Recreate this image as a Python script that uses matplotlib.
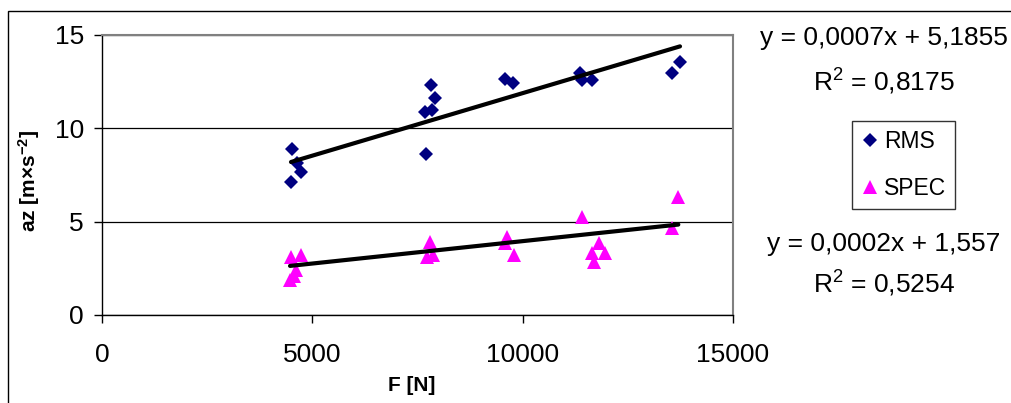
import matplotlib
matplotlib.use("Agg")
import matplotlib.pyplot as plt
from matplotlib.patches import Rectangle
import numpy as np

plt.rcParams["font.family"] = ["Liberation Sans", "DejaVu Sans"]
plt.rcParams["mathtext.fontset"] = "custom"
plt.rcParams["mathtext.rm"] = "Liberation Sans"
plt.rcParams["mathtext.it"] = "Liberation Sans:italic"
plt.rcParams["mathtext.bf"] = "Liberation Sans:bold"

# measured points: force F [N] vs vertical acceleration az
rms_force = [4508, 4628, 4731, 4493, 7814, 7915, 7850, 7678, 7702,
             9580, 9778, 11362, 11402, 11640, 13740, 13542]
rms_az = [8.88, 8.13, 7.68, 7.14, 12.32, 11.61, 10.98, 10.89, 8.63,
          12.63, 12.45, 12.95, 12.59, 12.59, 13.53, 12.95]

spec_force = [4500, 4740, 4600, 4560, 4470, 7797, 7717, 7875, 9618, 9580,
              9794, 11418, 11822, 11640, 11957, 11696, 13700, 13558]
spec_az = [3.10, 3.20, 2.40, 2.10, 1.85, 3.93, 3.13, 3.21, 4.20, 3.84,
           3.23, 5.27, 3.84, 3.30, 3.30, 2.86, 6.34, 4.64]

# linear trend coefficients (slope, intercept)
rms_fit = (0.00067, 5.1855)
spec_fit = (0.00024, 1.557)

rms_label = ["y = 0,0007x + 5,1855", "R$^{2}$ = 0,8175"]
spec_label = ["y = 0,0002x + 1,557", "R$^{2}$ = 0,5254"]

W, H = 1011, 403
fig = plt.figure(figsize=(W / 100, H / 100), dpi=100)
ax = fig.add_axes([102 / W, 1 - 315 / H, 631 / W, 280 / H])

ax.plot(rms_force, rms_az, "D", color="#000080", ms=7, mew=0, label="RMS", zorder=3)
ax.plot(spec_force, spec_az, "^", color="#FF00FF", ms=10, mew=0, label="SPEC", zorder=3)

for xs, (k, q) in [(rms_force, rms_fit), (spec_force, spec_fit)]:
    xx = np.array([min(xs), max(xs)])
    ax.plot(xx, k * xx + q, color="black", lw=3, solid_capstyle="round", zorder=4)

ax.set_xlim(0, 15000)
ax.set_ylim(0, 15)
ax.set_xticks([0, 5000, 10000, 15000])
ax.set_yticks([0, 5, 10, 15])
ax.tick_params(axis="both", direction="out", length=6, width=1, labelsize=19, color="black")
ax.tick_params(axis="x", pad=14)
ax.tick_params(axis="y", pad=7)
ax.grid(axis="y", color="black", lw=0.9)
ax.set_axisbelow(True)

for side in ("top", "right"):
    ax.spines[side].set_color("#808080")
    ax.spines[side].set_linewidth(1.5)
for side in ("left", "bottom"):
    ax.spines[side].set_color("black")
    ax.spines[side].set_linewidth(1)

ax.set_xlabel("F [N]", fontsize=15, fontweight="bold")
ax.xaxis.set_label_coords(0.49, -0.218)
ax.set_ylabel(r"az [m×s$^{\mathbf{-2}}$]", fontsize=15, fontweight="bold")
ax.yaxis.set_label_coords(-0.095, 0.48)

leg = fig.legend(loc="upper left", bbox_to_anchor=(852 / W, 1 - 121 / H),
                 borderaxespad=0, frameon=True, fancybox=False, fontsize=16.5,
                 handlelength=0.75, handletextpad=0.25, labelspacing=1.05,
                 borderpad=0.4, edgecolor="black")
leg.get_frame().set_linewidth(1)

cx = 884 / W
for text, py in zip(rms_label + spec_label, [38, 82, 244, 284]):
    fig.text(cx, 1 - py / H, text, ha="center", va="center", fontsize=19)

# outer chart frame, open towards the right and bottom edges
fig.add_artist(Rectangle((8 / W, -0.5), 2, 1 - 11 / H + 0.5, transform=fig.transFigure,
                         fill=False, ec="black", lw=1, clip_on=False))

fig.savefig("out.png", dpi=100)
